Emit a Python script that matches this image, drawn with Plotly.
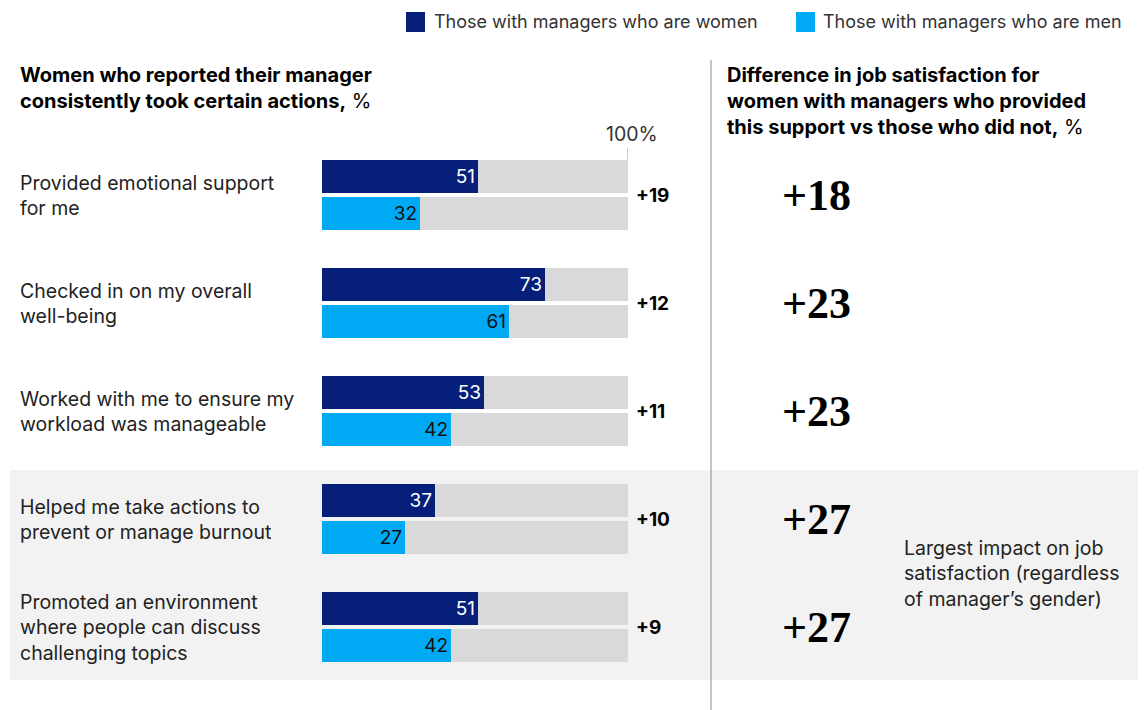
import plotly.graph_objects as go

# ---- data ----
actions = [
    "Provided emotional support<br>for me",
    "Checked in on my overall<br>well-being",
    "Worked with me to ensure my<br>workload was manageable",
    "Helped me take actions to<br>prevent or manage burnout",
    "Promoted an environment<br>where people can discuss<br>challenging topics",
]
women_mgr = [51, 73, 53, 37, 51]
men_mgr = [32, 61, 42, 27, 42]
satisfaction_diff = [18, 23, 23, 27, 27]
series_names = ["Those with managers who are women", "Those with managers who are men"]

# ---- style ----
NAVY = "#061f7a"
CYAN = "#00a9f4"
TRACK = "#d9d9d9"
BAND = "#f2f2f2"
TEXT = "#222222"
SANS = "Inter, Liberation Sans, Arial, sans-serif"
SERIF = "Liberation Serif, Times New Roman, serif"
FS = 19.5
HFS = 20

W, H = 1145, 710
OFF = 0.171      # half distance between the two bars of a row (row units)
BW = 0.306       # bar thickness (row units)

n = len(actions)
idx = list(range(n))
y_w = [i - OFF for i in idx]
y_m = [i + OFF for i in idx]

fig = go.Figure()

# grey 100% tracks
fig.add_trace(go.Bar(x=[100] * n, y=y_w, orientation="h", width=BW,
                     marker=dict(color=TRACK, line=dict(width=0)),
                     hoverinfo="skip", showlegend=False))
fig.add_trace(go.Bar(x=[100] * n, y=y_m, orientation="h", width=BW,
                     marker=dict(color=TRACK, line=dict(width=0)),
                     hoverinfo="skip", showlegend=False))

# value bars
fig.add_trace(go.Bar(x=women_mgr, y=y_w, orientation="h", width=BW, name=series_names[0],
                     marker=dict(color=NAVY, line=dict(width=0)),
                     text=[str(v) for v in women_mgr], textposition="inside",
                     insidetextanchor="end", textangle=0,
                     textfont=dict(family=SANS, size=19, color="white"),
                     showlegend=False))
fig.add_trace(go.Bar(x=men_mgr, y=y_m, orientation="h", width=BW, name=series_names[1],
                     marker=dict(color=CYAN, line=dict(width=0)),
                     text=[str(v) for v in men_mgr], textposition="inside",
                     insidetextanchor="end", textangle=0,
                     textfont=dict(family=SANS, size=19, color="#111111"),
                     showlegend=False))

# axis geometry: row 0 centre at 195px, row pitch 108px
row_px, pitch = 195.0, 108.0
y_top = -row_px / pitch
y_bot = (H - row_px) / pitch

fig.update_layout(
    width=W, height=H,
    margin=dict(l=0, r=0, t=0, b=0),
    paper_bgcolor="white", plot_bgcolor="rgba(0,0,0,0)",
    barmode="overlay",
    bargap=0,
    xaxis=dict(domain=[322 / W, 628 / W], range=[0, 100], visible=False, fixedrange=True),
    yaxis=dict(domain=[0, 1], range=[y_bot, y_top], visible=False, fixedrange=True),
    font=dict(family=SANS, color=TEXT),
    showlegend=False,
)

shapes = []
# shaded band behind the last two rows
shapes.append(dict(type="rect", xref="paper", yref="y", layer="below",
                   x0=10 / W, x1=1138 / W,
                   y0=(470 - row_px) / pitch, y1=(680 - row_px) / pitch,
                   fillcolor=BAND, line=dict(width=0)))
# divider between the two panels
shapes.append(dict(type="line", xref="paper", yref="paper",
                   x0=711 / W, x1=711 / W, y0=1 - 60 / H, y1=0,
                   line=dict(color="#8a8a8a", width=1)))
# 100% tick
shapes.append(dict(type="line", xref="x", yref="y", x0=100, x1=100,
                   y0=(148 - row_px) / pitch, y1=(160 - row_px) / pitch,
                   line=dict(color="#999999", width=1)))
# legend swatches
shapes.append(dict(type="rect", xref="paper", yref="paper",
                   x0=406 / W, x1=425 / W, y0=1 - 32 / H, y1=1 - 12 / H,
                   fillcolor=NAVY, line=dict(width=0)))
shapes.append(dict(type="rect", xref="paper", yref="paper",
                   x0=796 / W, x1=815 / W, y0=1 - 32 / H, y1=1 - 12 / H,
                   fillcolor=CYAN, line=dict(width=0)))
fig.update_layout(shapes=shapes)

ann = []
# legend texts
ann.append(dict(xref="paper", yref="paper", x=432 / W, y=1 - 22 / H, xanchor="left",
                yanchor="middle", text=series_names[0], showarrow=False,
                font=dict(size=18, color="#333333")))
ann.append(dict(xref="paper", yref="paper", x=821 / W, y=1 - 22 / H, xanchor="left",
                yanchor="middle", text=series_names[1], showarrow=False,
                font=dict(size=18, color="#333333")))
# panel headers
ann.append(dict(xref="paper", yref="paper", x=18 / W, y=1 - 61 / H, xanchor="left",
                yanchor="top", align="left", showarrow=False,
                text="<b>Women who reported their manager<br>consistently took certain actions,</b> %",
                font=dict(size=HFS, color="#000000")))
ann.append(dict(xref="paper", yref="paper", x=725 / W, y=1 - 61 / H, xanchor="left",
                yanchor="top", align="left", showarrow=False,
                text="<b>Difference in job satisfaction for<br>women with managers who provided<br>"
                     "this support vs those who did not,</b> %",
                font=dict(size=HFS, color="#000000")))
# 100% label
ann.append(dict(xref="x", yref="y", x=100, y=(134 - row_px) / pitch, xanchor="center",
                yanchor="middle", xshift=4, text="100%", showarrow=False,
                font=dict(size=FS, color="#333333")))

for i in idx:
    # action label
    ann.append(dict(xref="paper", yref="y", x=18 / W, y=i, xanchor="left", yanchor="middle",
                    align="left", text=actions[i], showarrow=False,
                    font=dict(size=FS, color=TEXT)))
    # gap between women- and men-managed groups
    gap = women_mgr[i] - men_mgr[i]
    ann.append(dict(xref="x", yref="y", x=100, y=i, xanchor="left", yanchor="middle",
                    xshift=6, text=f"<b>+{gap}</b>", showarrow=False,
                    font=dict(size=19, color="#000000")))
    # job satisfaction difference
    ann.append(dict(xref="paper", yref="y", x=816 / W, y=i, xanchor="center",
                    yanchor="middle", text=f"<b>+{satisfaction_diff[i]}</b>", showarrow=False,
                    font=dict(family=SERIF, size=44, color="#000000")))

ann.append(dict(xref="paper", yref="paper", x=902 / W, y=1 - 573 / H, xanchor="left",
                yanchor="middle", align="left", showarrow=False,
                text="Largest impact on job<br>satisfaction (regardless<br>of manager’s gender)",
                font=dict(size=FS, color=TEXT)))

fig.update_layout(annotations=ann)

fig.write_html("out.html")
